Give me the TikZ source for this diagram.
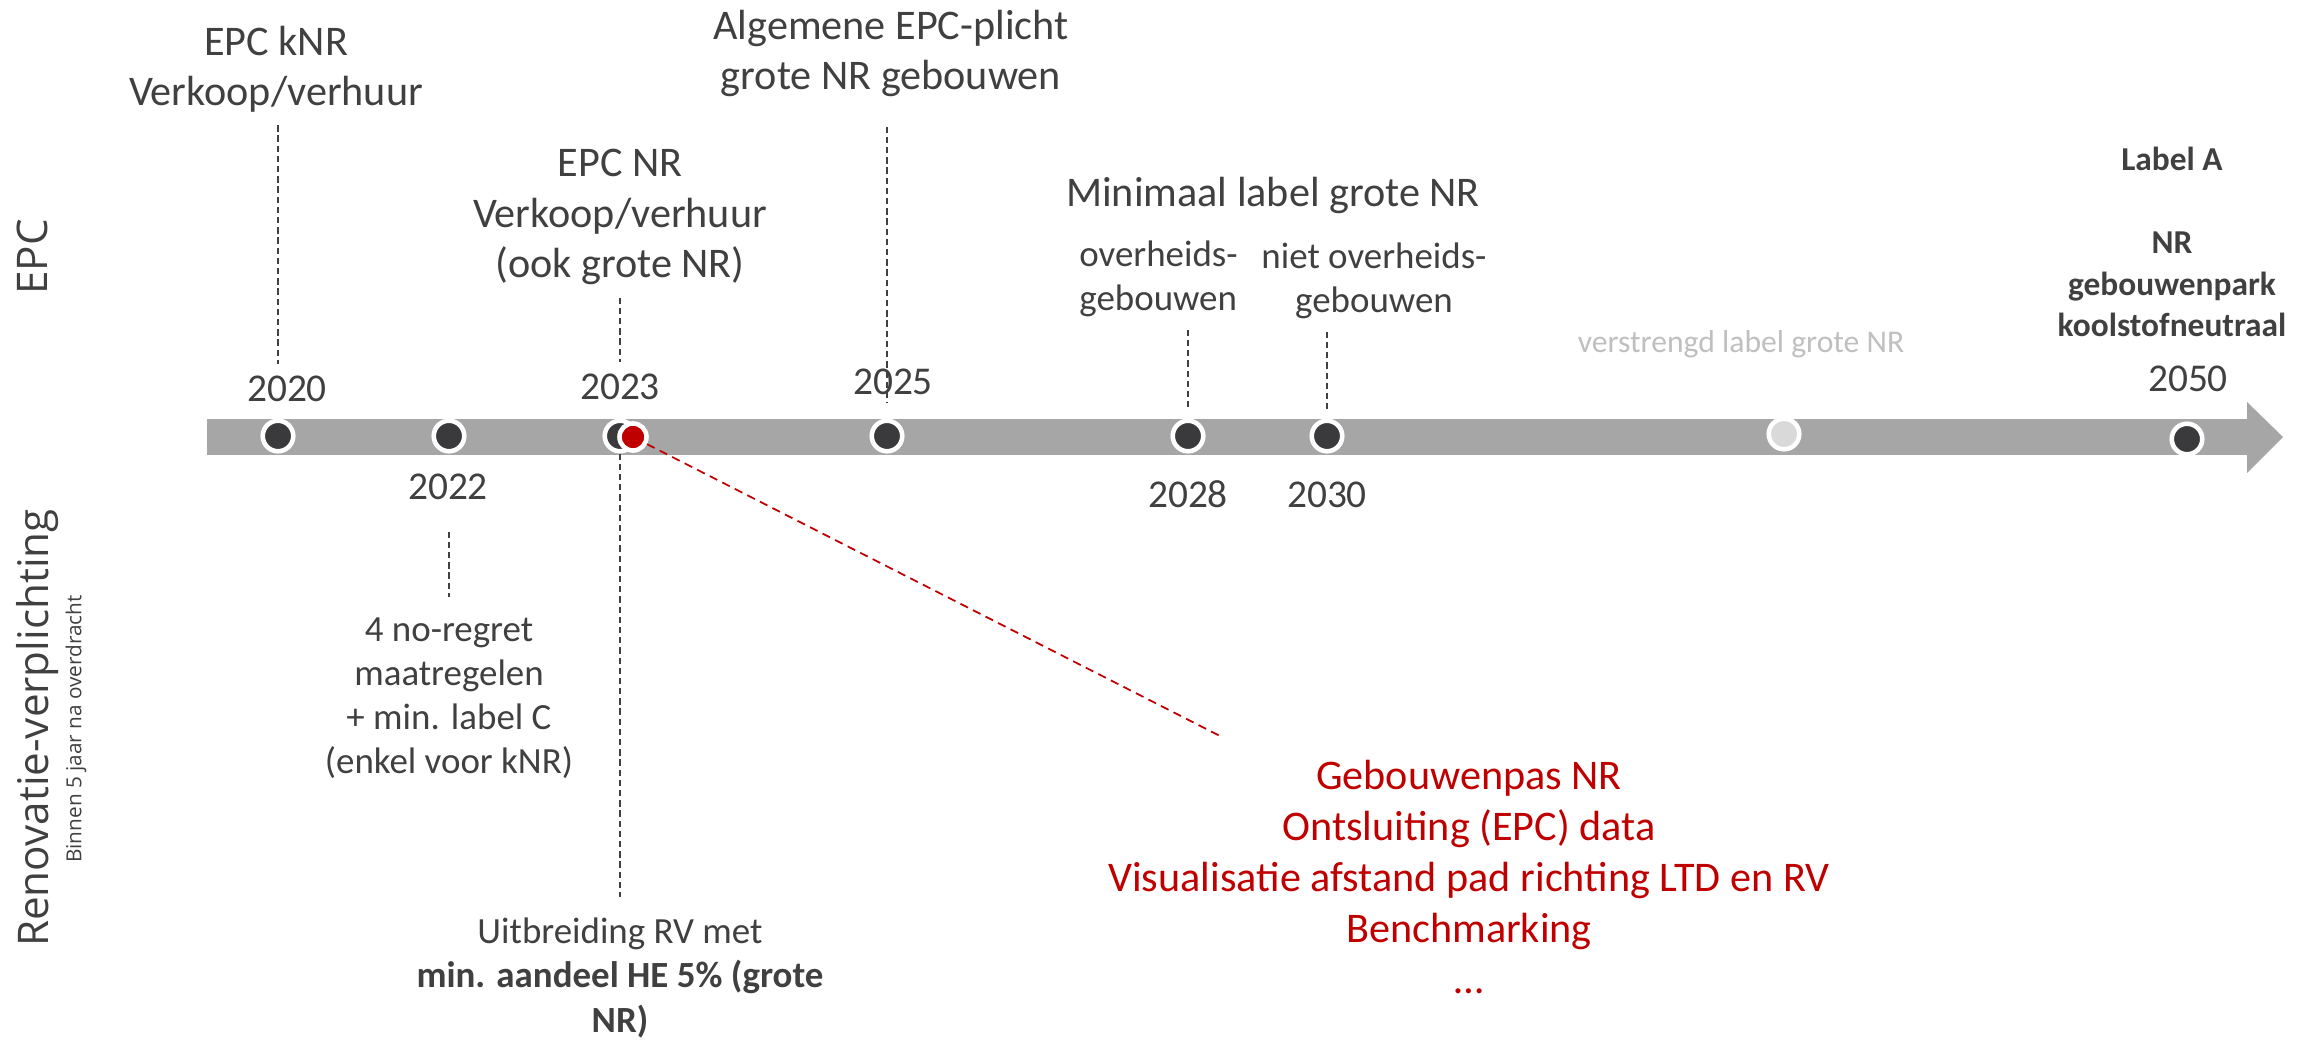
\documentclass[tikz,border=0pt]{standalone}
\usepackage{fontspec}
\setmainfont{Carlito}
\newfontfamily\sidefont{Open Sans}
\definecolor{txt}{RGB}{64,64,64}
\definecolor{bargrey}{RGB}{166,166,166}
\definecolor{dotdark}{RGB}{58,58,60}
\definecolor{lightdot}{RGB}{217,217,217}
\definecolor{lighttxt}{RGB}{191,191,191}
\definecolor{epcred}{RGB}{192,0,0}
\begin{document}
\begin{tikzpicture}[x=0.01cm,y=-0.01cm,
    every node/.style={text=txt},
    dot/.style={circle,fill=dotdark,draw=white,line width=1.3pt,minimum size=0.305cm,inner sep=0pt},
    big/.style={font=\fontsize{12}{14.5}\selectfont,align=center,anchor=base},
    small/.style={font=\fontsize{10.5}{12.6}\selectfont,align=center,anchor=base},
    year/.style={font=\fontsize{11.2}{13}\selectfont,anchor=base},
    guide/.style={draw=txt,line width=0.4pt,dash pattern=on 1.8pt off 1.1pt}]
  \useasboundingbox (0,0) rectangle (2323,1040);

  % side labels
  \node[rotate=90,font=\sidefont\fontsize{12}{14}\selectfont] (epc) at (32,257) {EPC};
  \node[rotate=90,font=\sidefont\fontsize{12}{14}\selectfont] (reno) at (38,728) {Renovatie-verplichting};
  \node[rotate=90,font=\sidefont\fontsize{5.9}{7}\selectfont] (binnen) at (76,729) {Binnen 5 jaar na overdracht};

  % timeline
  \fill[bargrey] (207,419) rectangle (2247,455);
  \fill[bargrey] (2247,402) -- (2283,437) -- (2247,473) -- cycle;

  \node[dot] (d2020) at (278,436) {};
  \node[dot] (d2022) at (449,436) {};
  \node[dot] (d2023) at (620,436) {};
  \node[dot,fill=epcred,minimum size=0.27cm] (dred) at (633,437) {};
  \node[dot] (d2025) at (887,436) {};
  \node[dot] (d2028) at (1188,436) {};
  \node[dot] (d2030) at (1327,436) {};
  \node[dot,fill=lightdot] (dlater) at (1784,434) {};
  \node[dot] (d2050) at (2187,439) {};

  % years
  \node[year] (y2020) at (287,402) {2020};
  \node[year] (y2022) at (448,500) {2022};
  \node[year] (y2023) at (620,400) {2023};
  \node[year] (y2025) at (893,395) {2025};
  \node[year] (y2028) at (1188,508) {2028};
  \node[year] (y2030) at (1327,508) {2030};
  \node[year] (y2050) at (2188,392) {2050};

  % EPC events (base = last line)
  \node[big] (t2020) at (276,106) {EPC kNR\\Verkoop/verhuur};
  \node[big] (t2023) at (620,278) {EPC NR\\Verkoop/verhuur\\(ook grote NR)};
  \node[big] (t2025) at (891,90) {Algemene EPC-plicht\\grote NR gebouwen};
  \node[big] (tmin) at (1273,207) {Minimaal label grote NR};
  \node[small,align=left,anchor=base west] (t2028) at (1067,311) {overheids-\\gebouwen};
  \node[small] (t2030) at (1374,313) {niet overheids-\\gebouwen};
  \node[anchor=base,text=lighttxt,font=\fontsize{9}{11}\selectfont] (tlater) at (1741,353) {verstrengd label grote NR};
  \node[anchor=base,font=\bfseries\fontsize{9.5}{12}\selectfont] (labela) at (2172,171) {Label A};
  \node[anchor=base,align=center,font=\bfseries\fontsize{9.5}{11.9}\selectfont] (t2050) at (2172,337) {NR\\gebouwenpark\\koolstofneutraal};

  % renovatieverplichting
  \node[small] (b2022) at (449,774) {4 no-regret\\maatregelen\\+ min. label C\\(enkel voor kNR)};
  \node[small] (b2023) at (620,1032) {Uitbreiding RV met\\\textbf{min. aandeel HE 5\% (grote}\\\textbf{NR)}};

  % gebouwenpas
  \node[big,text=epcred] (pas) at (1469,993) {Gebouwenpas NR\\Ontsluiting (EPC) data\\Visualisatie afstand pad richting LTD en RV\\Benchmarking\\…};
  \coordinate (pasend) at (1222,737);

  % dashed guides
  \draw[guide] (t2020.south -| d2020) -- (y2020.north -| d2020);
  \draw[guide] (t2023.south -| d2023) -- (y2023.north -| d2023);
  \draw[guide,shorten <=0.17cm,shorten >=0.16cm] (t2025.south -| d2025) -- (d2025.north);
  \draw[guide,shorten >=0.08cm] (t2028.south -| d2028) -- (d2028.north);
  \draw[guide,shorten >=0.08cm] (t2030.south -| d2030) -- (d2030.north);
  \draw[guide,shorten <=0.19cm,shorten >=0.08cm] (y2022.south -| d2022) -- (b2022.north -| d2022);
  \draw[guide,shorten >=0.08cm] (d2023.south) -- (b2023.north -| d2023);
  \draw[draw=epcred,line width=0.5pt,dash pattern=on 2.4pt off 1.6pt] (dred) -- (pasend);
\end{tikzpicture}
\end{document}
